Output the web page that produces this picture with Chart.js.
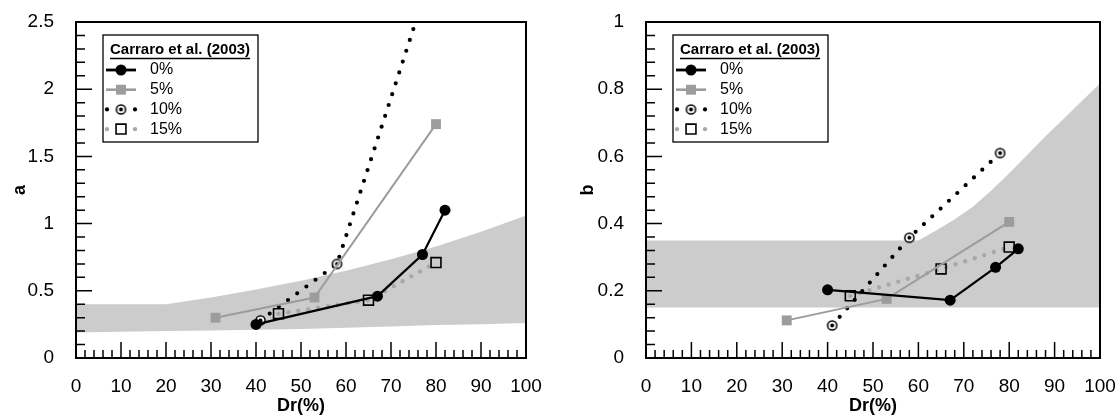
<!DOCTYPE html>
<html>
<head>
<meta charset="utf-8">
<script src="https://cdn.jsdelivr.net/npm/chart.js@4.4.1/dist/chart.umd.min.js"></script>
<style>
  html, body { margin: 0; padding: 0; background: #fff; }
  #w1 { position: absolute; left: 0; top: 0; width: 557px; height: 416px; }
  #w2 { position: absolute; left: 557px; top: 0; width: 558px; height: 416px; }
</style>
</head>
<body>
<div id="w1"><canvas id="c1" width="557" height="416"></canvas></div>
<div id="w2"><canvas id="c2" width="558" height="416"></canvas></div>
<script>
// ---------------- data ----------------
const legendTitle = 'Carraro et al. (2003)';
const seriesLabels = ['0%', '5%', '10%', '15%'];

const dr0 = [40, 67, 77, 82];
const dr5 = [31, 53, 80];
const dr10 = [41, 58, 78];
const dr15 = [45, 65, 80];

const a0 = [0.25, 0.46, 0.77, 1.10];
const a5 = [0.30, 0.45, 1.74];
const a10 = [0.28, 0.70, 2.76];
const a15 = [0.33, 0.43, 0.71];

const b0 = [0.203, 0.172, 0.27, 0.325];
const b5 = [0.112, 0.176, 0.405];
const b10 = [0.097, 0.358, 0.61];
const b15 = [0.185, 0.265, 0.33];

// shaded ranges
const bandAx = [0, 20, 30, 40, 50, 60, 70, 80, 90, 100];
const bandALow = [0.19, 0.20, 0.205, 0.21, 0.215, 0.225, 0.235, 0.245, 0.252, 0.26];
const bandAHigh = [0.40, 0.40, 0.45, 0.51, 0.575, 0.65, 0.735, 0.83, 0.94, 1.06];

const bandBx = [0, 60, 64, 68, 72, 76, 80, 84, 88, 92, 96, 100];
const bandBLow = [0.15, 0.15, 0.15, 0.15, 0.15, 0.15, 0.15, 0.15, 0.15, 0.15, 0.15, 0.15];
const bandBHigh = [0.35, 0.35, 0.38, 0.413, 0.45, 0.498, 0.55, 0.605, 0.66, 0.712, 0.765, 0.817];

// tick labels
const xTicks = [0, 10, 20, 30, 40, 50, 60, 70, 80, 90, 100];
const aTicks = [0, 0.5, 1, 1.5, 2, 2.5];
const bTicks = [0, 0.2, 0.4, 0.6, 0.8, 1];

// ---------------- helpers ----------------
const FONT = '"Liberation Sans", Arial, Helvetica, sans-serif';
const pts = (xs, ys) => xs.map((x, i) => ({ x: x, y: ys[i] }));

function circleDot() {
  const c = document.createElement('canvas');
  c.width = 13; c.height = 13;
  const g = c.getContext('2d');
  g.beginPath(); g.arc(6.5, 6.5, 4.6, 0, Math.PI * 2);
  g.fillStyle = '#fff'; g.fill();
  g.lineWidth = 1.5; g.strokeStyle = '#000'; g.stroke();
  g.beginPath(); g.arc(6.5, 6.5, 2, 0, Math.PI * 2);
  g.fillStyle = '#000'; g.fill();
  return c;
}
const cdImg = circleDot();

function seriesSets(y0, y5, y10, y15) {
  return [
    { label: seriesLabels[0], data: pts(dr0, y0), borderColor: '#000', borderWidth: 2.2,
      pointStyle: 'circle', pointRadius: 5.5, pointBackgroundColor: '#000', pointBorderColor: '#000', pointBorderWidth: 0 },
    { label: seriesLabels[1], data: pts(dr5, y5), borderColor: '#9c9c9c', borderWidth: 2,
      pointStyle: 'rect', pointRadius: 7, pointBackgroundColor: '#9c9c9c', pointBorderColor: '#9c9c9c', pointBorderWidth: 0 },
    { label: seriesLabels[2], data: pts(dr10, y10), borderColor: '#000', borderWidth: 4.2,
      borderDash: [0, 11.4], borderCapStyle: 'round',
      pointStyle: cdImg, pointRadius: 5 },
    { label: seriesLabels[3], data: pts(dr15, y15), borderColor: '#a8a8a8', borderWidth: 4.4,
      borderDash: [0, 10], borderCapStyle: 'round',
      pointStyle: 'rect', pointRadius: 7, pointBackgroundColor: 'rgba(0,0,0,0)', pointBorderColor: '#000', pointBorderWidth: 1.6 }
  ];
}
function bandSets(xs, lo, hi) {
  return [
    { label: 'low', data: pts(xs, lo), borderWidth: 0, borderColor: 'rgba(0,0,0,0)', pointRadius: 0, fill: false },
    { label: 'high', data: pts(xs, hi), borderWidth: 0, borderColor: 'rgba(0,0,0,0)', pointRadius: 0,
      fill: '-1', backgroundColor: '#cccccc' }
  ];
}

// inward ticks + frame
const framePlugin = {
  id: 'frameTicks',
  afterDraw(chart, args, o) {
    const ctx = chart.ctx, ca = chart.chartArea;
    const xs = chart.scales.x, ys = chart.scales.y;
    ctx.save();
    ctx.strokeStyle = '#000';
    ctx.lineWidth = 1.5;
    ctx.beginPath();
    for (let i = 0; xs.min + i * o.xMinor <= xs.max + 1e-9; i++) {
      const v = xs.min + i * o.xMinor;
      const p = xs.getPixelForValue(v);
      const major = Math.abs(v / o.xMajor - Math.round(v / o.xMajor)) < 1e-6;
      const len = major ? 16 : 8;
      ctx.moveTo(p, ca.bottom); ctx.lineTo(p, ca.bottom - len);
    }
    for (let i = 0; ys.min + i * o.yMinor <= ys.max + 1e-9; i++) {
      const v = ys.min + i * o.yMinor;
      const p = ys.getPixelForValue(v);
      const major = Math.abs(v / o.yMajor - Math.round(v / o.yMajor)) < 1e-6;
      const len = major ? 16 : 9;
      ctx.moveTo(ca.left, p); ctx.lineTo(ca.left + len, p);
    }
    ctx.stroke();
    ctx.lineWidth = 2;
    ctx.strokeRect(ca.left, ca.top, ca.right - ca.left, ca.bottom - ca.top);
    ctx.restore();
  }
};

// boxed legend
const boxLegend = {
  id: 'boxLegend',
  afterDraw(chart, args, o) {
    const ctx = chart.ctx, ca = chart.chartArea;
    const x0 = ca.left + o.dx, y0 = ca.top + o.dy, w = 155, h = 107;
    ctx.save();
    ctx.fillStyle = '#fff';
    ctx.fillRect(x0, y0, w, h);
    ctx.lineWidth = 1.3; ctx.strokeStyle = '#000';
    ctx.strokeRect(x0, y0, w, h);
    ctx.fillStyle = '#000';
    ctx.textBaseline = 'middle'; ctx.textAlign = 'left';
    ctx.font = 'bold 15px ' + FONT;
    const tx = x0 + 7, ty = y0 + 15;
    ctx.fillText(legendTitle, tx, ty);
    const tw = ctx.measureText(legendTitle).width;
    ctx.lineWidth = 1.3;
    ctx.beginPath(); ctx.moveTo(tx, ty + 8.5); ctx.lineTo(tx + tw, ty + 8.5); ctx.stroke();
    ctx.font = '16px ' + FONT;
    for (let i = 0; i < 4; i++) {
      const ds = chart.data.datasets[i];
      const yy = y0 + 35 + i * 19.7;
      ctx.save();
      if (ds.borderDash) {
        ctx.fillStyle = ds.borderColor;
        [x0 + 4, x0 + 32].forEach(px => {
          ctx.beginPath(); ctx.arc(px, yy, ds.borderWidth / 2, 0, Math.PI * 2); ctx.fill();
        });
      } else {
        ctx.strokeStyle = ds.borderColor;
        ctx.lineWidth = ds.borderWidth + 0.6;
        ctx.beginPath(); ctx.moveTo(x0 + 3, yy); ctx.lineTo(x0 + 33, yy); ctx.stroke();
      }
      ctx.fillStyle = ds.pointBackgroundColor || '#000';
      ctx.strokeStyle = ds.pointBorderColor || '#000';
      ctx.lineWidth = ds.pointBorderWidth || 0;
      Chart.helpers.drawPoint(ctx, { pointStyle: ds.pointStyle, radius: ds.pointRadius,
        borderWidth: ds.pointBorderWidth || 0, rotation: 0 }, x0 + 18, yy);
      ctx.restore();
      ctx.fillStyle = '#000';
      ctx.fillText(ds.label, x0 + 47, yy);
    }
    ctx.restore();
  }
};

function makeChart(id, yTitle, ySeries, band, yMax, yTicks, yMajor, yMinor, padRight, yWidth, titlePad) {
  const tickFont = { family: FONT, size: 19 };
  const titleFont = { family: FONT, size: 18, weight: 'bold' };
  return new Chart(document.getElementById(id), {
    type: 'line',
    data: { datasets: seriesSets(...ySeries).concat(bandSets(...band)) },
    plugins: [framePlugin, boxLegend],
    options: {
      responsive: false,
      animation: false,
      events: [],
      layout: { padding: { left: 0, top: 22, right: padRight, bottom: 0 } },
      elements: { line: { tension: 0 } },
      plugins: {
        legend: { display: false },
        tooltip: { enabled: false },
        frameTicks: { xMajor: 10, xMinor: 2, yMajor: yMajor, yMinor: yMinor },
        boxLegend: { dx: 27, dy: 13 }
      },
      scales: {
        x: {
          type: 'linear', min: 0, max: 100,
          grid: { display: false }, border: { display: false },
          afterBuildTicks: s => { s.ticks = xTicks.map(v => ({ value: v })); },
          afterFit: s => { s.height = 58; s.paddingLeft = 0; s.paddingRight = 0; },
          ticks: { font: tickFont, color: '#000', padding: 9, autoSkip: false, maxRotation: 0,
                   callback: v => String(v) },
          title: { display: true, text: 'Dr(%)', font: titleFont, color: '#000', padding: { top: 0, bottom: -1 } }
        },
        y: {
          type: 'linear', min: 0, max: yMax,
          grid: { display: false }, border: { display: false },
          afterBuildTicks: s => { s.ticks = yTicks.map(v => ({ value: v })); },
          afterFit: s => { s.width = yWidth; s.paddingTop = 0; s.paddingBottom = 0; },
          ticks: { font: tickFont, color: '#000', padding: 14, callback: v => String(v) },
          title: { display: true, text: yTitle, font: titleFont, color: '#000', padding: { top: titlePad, bottom: 0 } }
        }
      }
    }
  });
}

makeChart('c1', 'a', [a0, a5, a10, a15], [bandAx, bandALow, bandAHigh], 2.5, aTicks, 0.5, 0.1, 31, 76, 9);
makeChart('c2', 'b', [b0, b5, b10, b15], [bandBx, bandBLow, bandBHigh], 1, bTicks, 0.2, 0.04, 15, 89, 20);
</script>
</body>
</html>
